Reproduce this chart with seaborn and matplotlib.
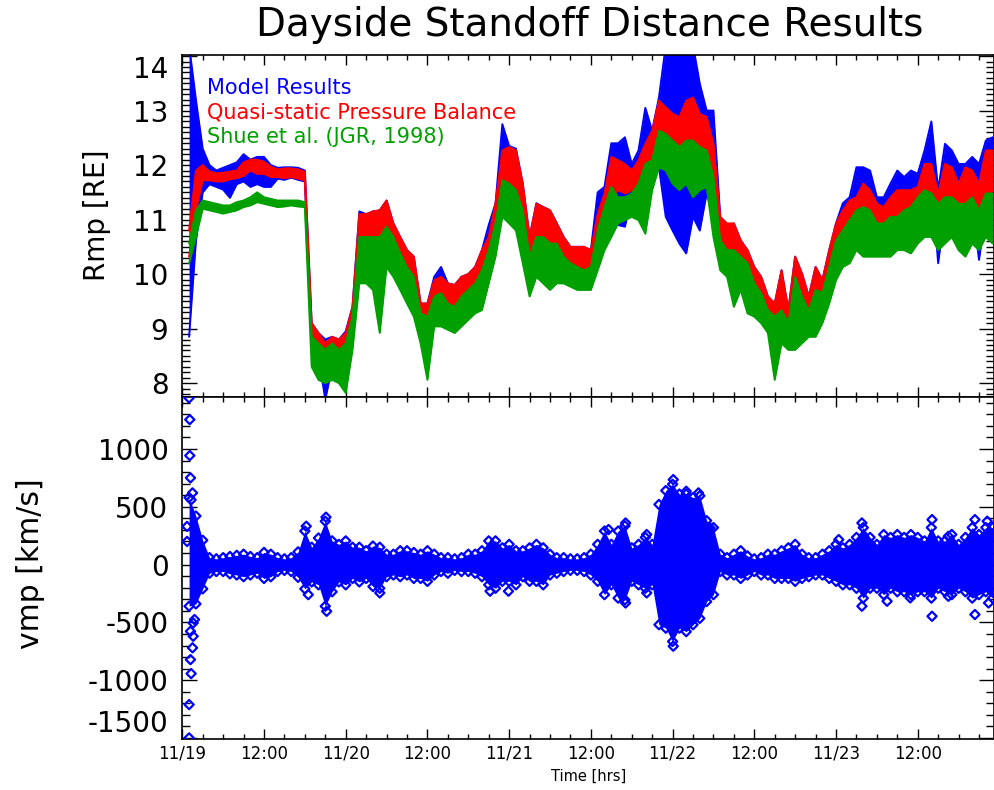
import numpy as np
import matplotlib
matplotlib.use("Agg")
import matplotlib.pyplot as plt
from matplotlib.ticker import FixedLocator, MultipleLocator
import seaborn as sns

# hourly samples, hours since 11/19 00:00
hours = np.arange(1, 120)

model_hi = [14.20, 13.20, 12.30, 12.00, 11.90, 11.95, 12.00, 12.05, 12.20, 12.10,
            12.15, 12.15, 12.00, 11.95, 11.96, 11.96, 11.95, 11.90, 9.10, 8.92,
            8.80, 8.85, 8.80, 8.95, 9.40, 11.15, 11.10, 11.15, 11.17, 11.35,
            10.93, 10.68, 10.44, 10.32, 9.46, 9.46, 9.95, 10.13, 9.83, 9.80,
            9.95, 10.00, 10.13, 10.44, 10.90, 11.30, 12.75, 12.35, 12.30, 11.66,
            10.68, 11.30, 11.23, 11.17, 10.93, 10.68, 10.50, 10.50, 10.50, 10.44,
            11.50, 11.60, 12.40, 12.40, 12.51, 12.02, 12.27, 13.05, 12.63, 13.24,
            14.20, 14.20, 14.20, 14.20, 14.20, 13.49, 13.00, 13.00, 11.05, 10.87,
            10.93, 10.62, 10.44, 10.13, 9.95, 9.59, 9.46, 10.07, 9.34, 10.32,
            10.01, 9.59, 10.13, 9.89, 10.44, 10.93, 11.30, 11.41, 11.96, 11.96,
            11.90, 11.41, 11.41, 11.66, 11.90, 11.78, 11.90, 11.84, 12.27, 12.80,
            11.54, 12.39, 12.27, 12.02, 12.02, 12.15, 12.02, 12.45, 12.51]
model_lo = [8.85, 10.60, 11.50, 11.65, 11.60, 11.55, 11.40, 11.65, 11.70, 11.60,
            11.65, 11.60, 11.60, 11.75, 11.73, 11.77, 11.73, 11.70, 8.70, 8.50,
            7.70, 8.30, 8.00, 8.20, 8.90, 10.44, 10.32, 10.32, 10.44, 10.56,
            10.20, 9.95, 9.71, 9.46, 8.98, 8.92, 9.28, 9.34, 9.22, 9.30,
            9.34, 9.46, 9.59, 9.71, 10.13, 10.60, 11.29, 11.54, 11.41, 10.56,
            9.90, 10.56, 10.32, 10.44, 10.20, 10.07, 9.95, 9.95, 9.95, 9.95,
            10.40, 10.80, 11.30, 10.90, 10.87, 11.41, 11.41, 11.66, 11.90, 11.96,
            11.05, 10.80, 10.56, 10.38, 11.05, 10.80, 11.48, 11.05, 10.56, 10.20,
            10.44, 10.32, 9.46, 9.46, 9.34, 9.10, 8.85, 9.22, 8.85, 9.34,
            9.10, 9.10, 9.34, 9.40, 9.83, 10.13, 10.50, 10.70, 10.90, 10.74,
            10.99, 10.93, 10.80, 11.05, 10.93, 11.05, 10.93, 11.05, 11.05, 11.78,
            10.20, 11.17, 11.54, 10.93, 10.93, 11.29, 10.26, 11.17, 11.35]

balance_hi = [10.80, 11.90, 12.00, 11.88, 11.85, 11.86, 11.88, 11.90, 12.05, 12.10,
              12.10, 12.06, 11.97, 11.92, 11.94, 11.94, 11.92, 11.88, 9.10, 8.92,
              8.73, 8.85, 8.80, 8.92, 9.40, 11.10, 11.10, 11.15, 11.17, 11.35,
              10.93, 10.68, 10.44, 10.32, 9.46, 9.46, 9.89, 9.95, 9.83, 9.80,
              9.95, 10.00, 10.13, 10.44, 10.68, 11.30, 12.27, 12.33, 12.27, 11.66,
              10.68, 11.29, 11.23, 11.17, 10.93, 10.68, 10.50, 10.50, 10.50, 10.44,
              11.10, 11.48, 12.15, 12.09, 12.02, 11.90, 12.09, 12.39, 12.63, 13.18,
              13.06, 12.94, 12.88, 13.18, 13.24, 12.94, 12.88, 12.39, 11.05, 10.93,
              10.93, 10.62, 10.44, 10.13, 9.95, 9.59, 9.46, 10.07, 9.34, 10.32,
              10.01, 9.59, 10.13, 9.89, 10.44, 10.93, 11.17, 11.35, 11.41, 11.66,
              11.54, 11.29, 11.23, 11.41, 11.54, 11.54, 11.54, 11.60, 12.02, 12.02,
              11.48, 12.02, 11.96, 11.66, 11.96, 11.90, 11.66, 12.27, 12.27]
balance_lo = [10.32, 11.17, 11.72, 11.72, 11.70, 11.70, 11.74, 11.76, 11.80, 11.90,
              11.84, 11.84, 11.78, 11.78, 11.76, 11.78, 11.75, 11.72, 8.73, 8.62,
              8.30, 8.43, 8.37, 8.25, 8.92, 10.44, 10.32, 10.32, 10.44, 10.56,
              10.20, 9.95, 9.71, 9.46, 8.98, 8.92, 9.28, 9.34, 9.22, 9.30,
              9.34, 9.46, 9.59, 9.71, 10.13, 10.60, 11.29, 11.54, 11.41, 10.56,
              9.90, 10.56, 10.32, 10.44, 10.20, 10.07, 9.95, 9.95, 9.95, 9.95,
              10.44, 10.80, 11.41, 11.54, 11.48, 11.54, 11.54, 11.84, 12.02, 12.27,
              12.51, 12.27, 12.15, 12.21, 12.33, 12.09, 12.15, 11.05, 10.44, 10.32,
              10.44, 10.32, 9.46, 9.46, 9.34, 9.10, 8.85, 9.22, 8.85, 9.34,
              9.10, 9.10, 9.34, 9.40, 9.83, 10.13, 10.44, 10.68, 10.80, 10.80,
              10.68, 10.68, 10.68, 10.68, 10.80, 10.93, 10.80, 10.80, 11.17, 11.29,
              10.93, 11.05, 11.17, 10.93, 10.93, 11.05, 10.80, 10.68, 11.05]

shue_hi = [10.56, 11.17, 11.35, 11.32, 11.29, 11.26, 11.26, 11.32, 11.35, 11.41,
           11.50, 11.41, 11.38, 11.35, 11.35, 11.35, 11.35, 11.32, 8.85, 8.73,
           8.61, 8.73, 8.61, 8.73, 9.22, 10.68, 10.68, 10.68, 10.68, 10.87,
           10.68, 10.38, 10.13, 9.95, 9.28, 9.22, 9.59, 9.65, 9.46, 9.40,
           9.59, 9.71, 9.83, 10.07, 10.44, 10.93, 11.72, 11.66, 11.54, 11.17,
           10.32, 10.68, 10.68, 10.56, 10.56, 10.32, 10.20, 10.13, 10.07, 10.13,
           10.80, 11.23, 11.60, 11.41, 11.41, 11.48, 11.66, 12.02, 12.09, 12.63,
           12.57, 12.45, 12.33, 12.45, 12.45, 12.33, 12.27, 11.78, 10.62, 10.44,
           10.44, 10.32, 10.20, 9.83, 9.65, 9.34, 9.22, 9.34, 9.10, 9.95,
           9.59, 9.34, 9.71, 9.65, 10.13, 10.62, 10.80, 10.99, 11.17, 11.23,
           11.17, 10.93, 10.93, 11.05, 11.05, 11.17, 11.23, 11.41, 11.54, 11.48,
           11.29, 11.41, 11.41, 11.29, 11.29, 11.41, 11.17, 11.48, 11.48]
shue_lo = [10.20, 10.68, 11.20, 11.17, 11.14, 11.11, 11.14, 11.17, 11.23, 11.26,
           11.32, 11.29, 11.26, 11.23, 11.24, 11.26, 11.24, 11.23, 8.30, 8.06,
           8.00, 8.06, 8.00, 7.82, 8.61, 9.83, 9.83, 9.71, 8.92, 10.13,
           9.95, 9.71, 9.46, 9.22, 8.73, 8.06, 9.04, 9.04, 8.98, 8.92,
           9.04, 9.16, 9.28, 9.34, 9.83, 10.32, 11.05, 10.93, 10.80, 10.20,
           9.59, 9.95, 9.83, 9.71, 9.83, 9.83, 9.77, 9.71, 9.71, 9.71,
           10.07, 10.44, 10.68, 10.93, 10.99, 11.05, 10.99, 10.74, 11.54, 11.96,
           11.90, 11.66, 11.54, 11.66, 11.41, 11.54, 11.60, 10.68, 10.07, 9.95,
           9.40, 9.71, 9.28, 9.22, 9.10, 8.92, 8.06, 8.73, 8.61, 8.61,
           8.73, 8.85, 8.85, 9.10, 9.46, 9.89, 10.13, 10.20, 10.44, 10.32,
           10.32, 10.32, 10.32, 10.32, 10.44, 10.44, 10.38, 10.56, 10.68, 10.68,
           10.44, 10.56, 10.68, 10.44, 10.32, 10.56, 10.44, 10.68, 10.56]

# magnetopause velocity spread (km/s), upper and lower edge per hour
vmp_hi = [580, 420, 210, 60, 50, 60, 70, 80, 90, 70,
          60, 105, 90, 60, 50, 60, 110, 290, 150, 230,
          375, 205, 175, 205, 150, 150, 120, 160, 150, 90,
          90, 120, 120, 105, 90, 120, 90, 60, 60, 50,
          60, 90, 90, 120, 205, 205, 145, 175, 120, 120,
          145, 175, 145, 90, 60, 60, 50, 50, 60, 90,
          175, 290, 175, 290, 335, 145, 175, 235, 175, 520,
          640, 695, 610, 610, 580, 595, 380, 320, 90, 60,
          90, 120, 75, 50, 60, 90, 90, 120, 145, 175,
          90, 60, 60, 90, 120, 175, 145, 175, 235, 320,
          235, 175, 260, 235, 260, 235, 260, 235, 205, 320,
          205, 205, 260, 175, 235, 320, 260, 320, 320]
vmp_lo = [-360, -340, -210, -75, -60, -60, -80, -90, -105, -90,
          -75, -120, -105, -60, -50, -60, -110, -210, -150, -175,
          -360, -235, -150, -175, -120, -150, -120, -190, -205, -105,
          -90, -105, -90, -120, -120, -145, -90, -60, -75, -50,
          -60, -60, -75, -105, -175, -205, -145, -145, -175, -105,
          -145, -145, -175, -90, -75, -60, -50, -50, -60, -90,
          -145, -260, -175, -290, -305, -145, -175, -205, -175, -520,
          -550, -665, -550, -580, -520, -465, -320, -260, -60, -90,
          -90, -120, -90, -60, -90, -90, -120, -120, -120, -145,
          -120, -105, -90, -90, -120, -145, -175, -175, -205, -290,
          -205, -205, -260, -205, -235, -235, -260, -235, -235, -290,
          -205, -235, -260, -205, -235, -290, -260, -235, -290]

# isolated velocity samples outside the main spread
vmp_out_t = [0.7, 0.7, 1.0, 1.1, 1.1, 1.2, 1.5, 1.3, 1.2, 1.5, 1.2, 1.3, 1.0, 1.0,
             1.6, 1.6, 1.8, 18.2, 18.5, 21.1, 21.2, 29.0, 45.2, 47.9, 62.6, 65.1,
             65.1, 68.2, 68.2, 72.1, 72.1, 74.0, 75.8, 77.5, 96.4, 99.8, 99.8,
             103.5, 106.9, 110.1, 110.1, 112.5, 112.5, 116.4, 116.4, 118.2, 118.4]
vmp_out_v = [330, 200, 1441, 1254, 943, 750, 620, 560, -577, -720, -822, -943, -1211, -1499,
             -505, -620, -475, 332, -260, 410, -404, -245, -230, -230, 303, 360,
             -332, 260, -245, 735, -706, 634, 620, 317, 216, 360, -360,
             -317, -288, 389, -447, 245, -274, 389, -432, 375, -332]

tick_hours = [0, 12, 24, 36, 48, 60, 72, 84, 96, 108]
tick_labels = ["11/19", "12:00", "11/20", "12:00", "11/21", "12:00",
               "11/22", "12:00", "11/23", "12:00"]

series_names = ["Model Results", "Quasi-static Pressure Balance", "Shue et al. (JGR, 1998)"]
series_colors = ["#0000ff", "#ff0000", "#00a000"]

sns.set_style("ticks")
plt.rcParams["font.family"] = ["DejaVu Sans"]
plt.rcParams["text.color"] = "black"
plt.rcParams["xtick.color"] = "black"
plt.rcParams["ytick.color"] = "black"
plt.rcParams["axes.edgecolor"] = "black"

fig = plt.figure(figsize=(9.95, 7.9), dpi=100)
ax1 = fig.add_axes([0.1832, 0.4971, 0.8158, 0.4333])
ax2 = fig.add_axes([0.1832, 0.0642, 0.8158, 0.4329])


def band(ax, lo, hi, color, z):
    ax.fill_between(hours, lo, hi, color=color, lw=0, zorder=z)
    sns.lineplot(x=hours, y=hi, color=color, lw=1.4, ax=ax, estimator=None, zorder=z)
    sns.lineplot(x=hours, y=lo, color=color, lw=1.4, ax=ax, estimator=None, zorder=z)


band(ax1, model_lo, model_hi, series_colors[0], 2)
band(ax1, balance_lo, balance_hi, series_colors[1], 3)
band(ax1, shue_lo, shue_hi, series_colors[2], 4)

for name, color, ypos in zip(series_names, series_colors, [0.904, 0.831, 0.761]):
    ax1.text(0.030, ypos, name, transform=ax1.transAxes, color=color,
             fontsize=15, ha="left", va="center", zorder=6)

# velocity panel: dense core plus open diamonds at the edges and outliers
ax2.fill_between(hours, vmp_lo, vmp_hi, color="#0000ff", lw=0, zorder=2)
dkw = dict(marker="D", s=22, color="#0000ff", facecolor="none",
           edgecolor="#0000ff", linewidth=1.6, ax=ax2, zorder=3, legend=False)
sns.scatterplot(x=hours, y=vmp_hi, **dkw)
sns.scatterplot(x=hours, y=vmp_lo, **dkw)
sns.scatterplot(x=vmp_out_t, y=vmp_out_v, **dkw)

for ax in (ax1, ax2):
    ax.set_xlim(0, 119.2)
    ax.xaxis.set_major_locator(FixedLocator(tick_hours))
    ax.xaxis.set_minor_locator(MultipleLocator(3))
    ax.tick_params(axis="both", which="both", direction="in",
                   top=True, right=True, colors="black", width=1)
    ax.tick_params(axis="x", which="major", length=7)
    ax.tick_params(axis="x", which="minor", length=3.5)
    ax.tick_params(axis="y", which="major", length=11, labelsize=20, pad=10)
    ax.tick_params(axis="y", which="minor", length=5.5)
    for sp in ax.spines.values():
        sp.set_linewidth(1.2)
        sp.set_color("black")
    ax.set_xlabel("")
    ax.set_ylabel("")

ax1.set_ylim(7.74, 14.02)
ax1.yaxis.set_major_locator(FixedLocator([8, 9, 10, 11, 12, 13, 14]))
ax1.set_yticklabels(["8", "9", "10", "11", "12", "13", "14"])
ax1.yaxis.set_minor_locator(MultipleLocator(0.1))
ax1.set_xticklabels([])

ax2.set_ylim(-1511, 1447)
ax2.yaxis.set_major_locator(FixedLocator([-1500, -1000, -500, 0, 500, 1000]))
ax2.set_yticklabels(["-1500", "-1000", "-500", "0", "500", "1000"])
ax2.yaxis.set_minor_locator(MultipleLocator(100))
ax2.set_xticklabels(tick_labels, fontsize=12)
ax2.tick_params(axis="x", which="major", pad=4)

for t in ax1.yaxis.get_major_ticks():
    if abs(t.get_loc() - 14) < 1e-6:
        t.label1.set_va("top")
for t in ax2.yaxis.get_major_ticks():
    if abs(t.get_loc() + 1500) < 1e-6:
        t.label1.set_va("bottom")

fig.text(0.593, 0.9684, "Dayside Standoff Distance Results", fontsize=28,
         ha="center", va="center")
fig.text(0.0975, 0.7278, "Rmp [RE]", fontsize=20, rotation=90, ha="center", va="center")
fig.text(0.0302, 0.2861, "vmp [km/s]", fontsize=21.5, rotation=90, ha="center", va="center")
fig.text(0.592, 0.0177, "Time [hrs]", fontsize=10.5, ha="center", va="center")

fig.savefig("out.png", dpi=100, facecolor="white")
